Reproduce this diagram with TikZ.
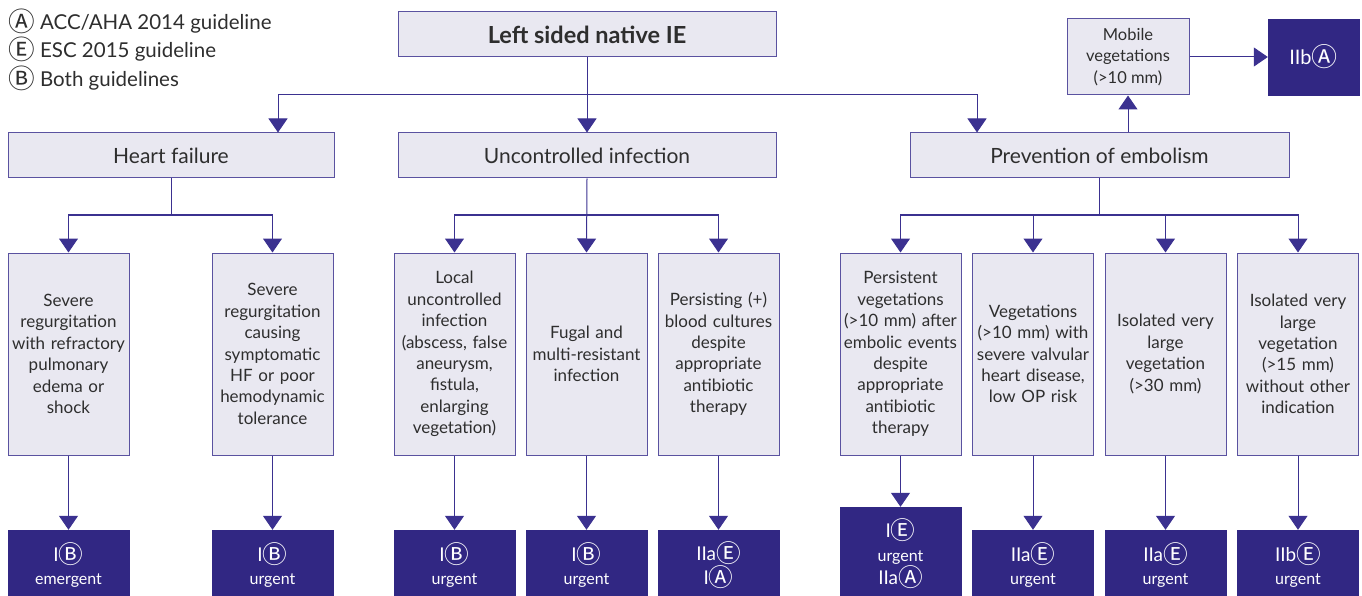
\documentclass[tikz,border=0pt]{standalone}
\usepackage{fontspec}
\setmainfont{Lato}
\newfontfamily\circfont{Noto Sans CJK SC}
\usetikzlibrary{arrows.meta}
\definecolor{boxfill}{HTML}{E9E8F1}
\definecolor{boxline}{HTML}{5A52A0}
\definecolor{darkfill}{HTML}{312783}
\definecolor{linkcol}{HTML}{3B3190}
\definecolor{txtcol}{HTML}{2E2E2E}
\newcommand{\encirc}[2]{{\circfont\iffontchar\font`#2\relax\raisebox{-0.18ex}{\scalebox{1.3}{#2}}\else\tikz[baseline=(L.base)]\node[circle,draw,inner sep=0.6pt,font=\scriptsize] (L) {#1};\fi}}
\newcommand{\cA}{\encirc{A}{Ⓐ}}
\newcommand{\cE}{\encirc{E}{Ⓔ}}
\newcommand{\cB}{\encirc{B}{Ⓑ}}
\begin{document}
\begin{tikzpicture}[x=1pt,y=-1pt,
	lightbox/.style={draw=boxline,fill=boxfill,line width=1pt,text=txtcol,align=center,inner sep=0pt},
	headbox/.style={lightbox,minimum height=45,font=\fontsize{21}{24}\selectfont},
	childbox/.style={lightbox,minimum width=121,minimum height=202,text width=119,font=\fontsize{17}{21.4}\selectfont},
	darkbox/.style={fill=darkfill,draw=darkfill,text=white,align=center,inner sep=0pt,minimum width=121,font=\fontsize{16}{23.5}\selectfont},
	legend/.style={anchor=west,text=txtcol,inner sep=0pt,font=\fontsize{20.5}{24}\selectfont},
	link/.style={draw=linkcol,line width=1pt},
	arrowlink/.style={link,-{Triangle[width=19pt,length=14pt]}}]
	\useasboundingbox (0,0) rectangle (1362,596);
	\clip (0,0) rectangle (1362,596);
	\node[legend] (legA) at (8,21) {\cA\ ACC/AHA 2014 guideline};
	\node[legend] (legE) at (8,49.5) {\cE\ ESC 2015 guideline};
	\node[legend] (legB) at (8,78) {\cB\ Both guidelines};
	\node[headbox,minimum width=378,font=\fontsize{23.5}{26}\selectfont\bfseries] (title) at (587,34.5) {Left sided native IE};
	\node[headbox,minimum width=326] (hf) at (171,155.5) {Heart failure};
	\node[headbox,minimum width=378] (ui) at (587,155.5) {Uncontrolled infection};
	\node[headbox,minimum width=379] (pe) at (1099.5,155.5) {Prevention of embolism};
	\node[lightbox,minimum width=122,minimum height=76,font=\fontsize{16.5}{21.4}\selectfont] (mobile) at (1128,57) {Mobile\\vegetations\\(>10 mm)};
	\node[darkbox,minimum width=91,minimum height=76,font=\fontsize{20}{22}\selectfont] (mobiler) at (1313.5,57) {IIb\cA};
	\node[childbox] (hf1) at (68.5,354) {Severe\\regurgitation\\with refractory\\pulmonary\\edema or\\shock};
	\node[childbox] (hf2) at (272.5,354) {Severe\\regurgitation\\causing\\symptomatic\\HF or poor\\hemodynamic\\tolerance};
	\node[childbox] (ui1) at (454.5,354) {Local\\uncontrolled\\infection\\(abscess, false\\aneurysm,\\fistula,\\enlarging\\vegetation)};
	\node[childbox] (ui2) at (586.5,354) {Fugal and\\multi-resistant\\infection};
	\node[childbox] (ui3) at (718.5,354) {Persisting (+)\\blood cultures\\despite\\appropriate\\antibiotic\\therapy};
	\node[childbox] (pe1) at (900.5,354) {Persistent\\vegetations\\(>10 mm) after\\embolic events\\despite\\appropriate\\antibiotic\\therapy};
	\node[childbox] (pe2) at (1033,354) {Vegetations\\(>10 mm) with\\severe valvular\\heart disease,\\low OP risk};
	\node[childbox] (pe3) at (1165.5,354) {Isolated very\\large\\vegetation\\(>30 mm)};
	\node[childbox] (pe4) at (1298,354) {Isolated very\\large\\vegetation\\(>15 mm)\\without other\\indication};
	\node[darkbox,minimum height=70] (hf1r) at (68.5,565) {{\fontsize{19}{20}\selectfont I\cB}\\emergent};
	\node[darkbox,minimum height=70] (hf2r) at (272.5,565) {{\fontsize{19}{20}\selectfont I\cB}\\urgent};
	\node[darkbox,minimum height=70] (ui1r) at (454.5,565) {{\fontsize{19}{20}\selectfont I\cB}\\urgent};
	\node[darkbox,minimum height=70] (ui2r) at (586.5,565) {{\fontsize{19}{20}\selectfont I\cB}\\urgent};
	\node[darkbox,minimum height=70,font=\fontsize{19}{23.5}\selectfont] (ui3r) at (718.5,565) {IIa\cE\\I\cA};
	\node[darkbox,minimum height=93] (pe1r) at (900.5,553.5) {{\fontsize{19}{20}\selectfont I\cE}\\urgent\\{\fontsize{19}{20}\selectfont IIa\cA}};
	\node[darkbox,minimum height=70] (pe2r) at (1033,565) {{\fontsize{19}{20}\selectfont IIa\cE}\\urgent};
	\node[darkbox,minimum height=70] (pe3r) at (1165.5,565) {{\fontsize{19}{20}\selectfont IIa\cE}\\urgent};
	\node[darkbox,minimum height=70] (pe4r) at (1298,565) {{\fontsize{19}{20}\selectfont IIb\cE}\\urgent};
	\coordinate (topbus) at (587,95);
	\coordinate (hfbus) at (171,215);
	\coordinate (uibus) at (587,215);
	\coordinate (pebus) at (1099.5,215);
	\draw[link] (title.south) -- (topbus);
	\draw[arrowlink] (topbus) -- (ui.north);
	\draw[arrowlink] (topbus) -| ([xshift=107]hf.north);
	\draw[arrowlink] (topbus) -| ([xshift=-122.5]pe.north);
	\draw[arrowlink] (mobile.south |- pe.north) -- (mobile.south);
	\draw[arrowlink] (mobile) -- (mobiler);
	\draw[link] (hf.south) -- (hfbus);
	\draw[arrowlink] (hfbus) -| (hf1.north);
	\draw[arrowlink] (hfbus) -| (hf2.north);
	\draw[arrowlink] (ui.south) -- (ui2.north);
	\draw[arrowlink] (uibus) -| (ui1.north);
	\draw[arrowlink] (uibus) -| (ui3.north);
	\draw[link] (pe.south) -- (pebus);
	\draw[arrowlink] (pebus) -| (pe1.north);
	\draw[arrowlink] (pebus) -| (pe2.north);
	\draw[arrowlink] (pebus) -| (pe3.north);
	\draw[arrowlink] (pebus) -| (pe4.north);
	\draw[arrowlink] (hf1) -- (hf1r);
	\draw[arrowlink] (hf2) -- (hf2r);
	\draw[arrowlink] (ui1) -- (ui1r);
	\draw[arrowlink] (ui2) -- (ui2r);
	\draw[arrowlink] (ui3) -- (ui3r);
	\draw[arrowlink] (pe1) -- (pe1r);
	\draw[arrowlink] (pe2) -- (pe2r);
	\draw[arrowlink] (pe3) -- (pe3r);
	\draw[arrowlink] (pe4) -- (pe4r);
\end{tikzpicture}
\end{document}
